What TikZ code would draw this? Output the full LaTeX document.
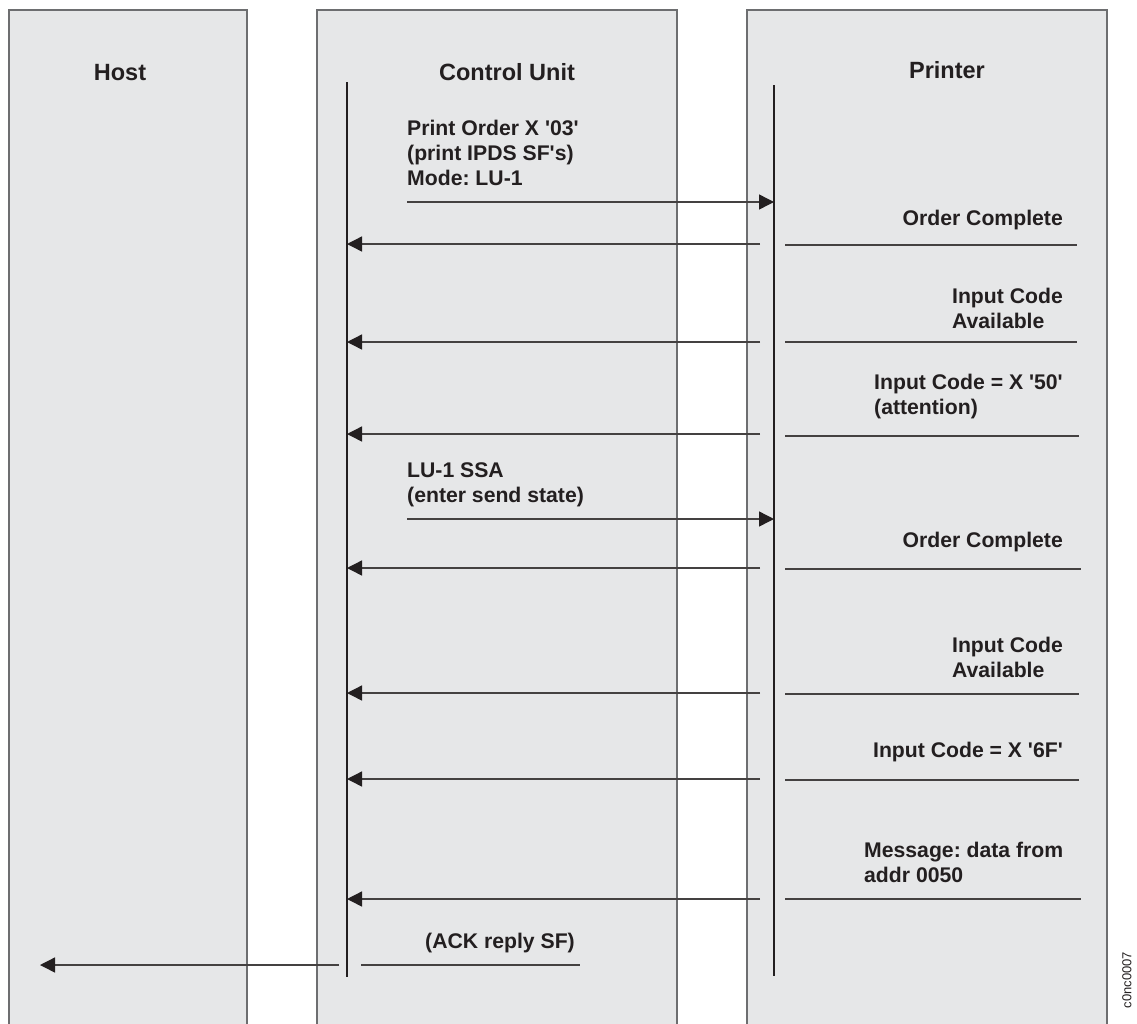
\documentclass[tikz,border=0pt]{standalone}
\usepackage{fontspec}
\setmainfont{Liberation Sans}[Ligatures=TeXOff]
\usetikzlibrary{arrows.meta}
\definecolor{panelfill}{HTML}{E6E7E8}
\definecolor{panelline}{HTML}{6D6E70}
\definecolor{ink}{HTML}{231F20}
\frenchspacing
\begin{document}
\begin{tikzpicture}[x=1pt,y=-1pt,
  panel/.style={fill=panelfill,draw=panelline,line width=1.1pt},
  lifeline/.style={draw=ink,line width=1.4pt},
  msg/.style={draw=ink!85,line width=1.4pt,-{Triangle[length=15pt,width=15pt,color=ink]}},
  plain/.style={draw=ink!85,line width=1.4pt},
  title/.style={font=\fontsize{23.5}{28}\selectfont\bfseries,text=ink,inner sep=0pt,anchor=base},
  lbl/.style={font=\fontsize{21.2}{25}\selectfont\bfseries,text=ink,inner sep=0pt}]
\useasboundingbox (0,0) rectangle (1137,1023);
\fill[white] (0,0) rectangle (1137,1023);
% panels
\path[panel] (9,10) rectangle (247,1030);
\path[panel] (317,10) rectangle (677,1030);
\path[panel] (747,10) rectangle (1107,1030);
% titles
\node[title] (thost) at (120,80) {Host};
\node[title] (tcu) at (507,80) {Control Unit};
\node[title] (tpr) at (947,78) {Printer};
% lifelines
\coordinate (cutop) at (347,82);
\coordinate (cubot) at (347,977);
\coordinate (prtop) at (774,85);
\coordinate (prbot) at (774,976);
\draw[lifeline] (cutop) -- (cubot);
\draw[lifeline] (prtop) -- (prbot);
% message endpoints
\coordinate (a1s) at (407,202); \coordinate (a1e) at (774,202);
\coordinate (a2s) at (760,244); \coordinate (a2e) at (347,244);
\coordinate (b2s) at (785,245); \coordinate (b2e) at (1077,245);
\coordinate (a3s) at (760,342); \coordinate (a3e) at (347,342);
\coordinate (b3s) at (785,342); \coordinate (b3e) at (1077,342);
\coordinate (a4s) at (760,434); \coordinate (a4e) at (347,434);
\coordinate (b4s) at (785,436); \coordinate (b4e) at (1079,436);
\coordinate (a5s) at (407,519); \coordinate (a5e) at (774,519);
\coordinate (a6s) at (760,568); \coordinate (a6e) at (347,568);
\coordinate (b6s) at (785,569); \coordinate (b6e) at (1081,569);
\coordinate (a7s) at (760,693); \coordinate (a7e) at (347,693);
\coordinate (b7s) at (785,694); \coordinate (b7e) at (1079,694);
\coordinate (a8s) at (760,779); \coordinate (a8e) at (347,779);
\coordinate (b8s) at (785,780); \coordinate (b8e) at (1079,780);
\coordinate (a9s) at (760,899); \coordinate (a9e) at (347,899);
\coordinate (b9s) at (785,899); \coordinate (b9e) at (1081,899);
\coordinate (a10s) at (339,965); \coordinate (a10e) at (40,965);
\coordinate (b10s) at (361,965); \coordinate (b10e) at (580,965);
\draw[msg] (a1s) -- (a1e);
\draw[msg] (a2s) -- (a2e);  \draw[plain] (b2s) -- (b2e);
\draw[msg] (a3s) -- (a3e);  \draw[plain] (b3s) -- (b3e);
\draw[msg] (a4s) -- (a4e);  \draw[plain] (b4s) -- (b4e);
\draw[msg] (a5s) -- (a5e);
\draw[msg] (a6s) -- (a6e);  \draw[plain] (b6s) -- (b6e);
\draw[msg] (a7s) -- (a7e);  \draw[plain] (b7s) -- (b7e);
\draw[msg] (a8s) -- (a8e);  \draw[plain] (b8s) -- (b8e);
\draw[msg] (a9s) -- (a9e);  \draw[plain] (b9s) -- (b9e);
\draw[msg] (a10s) -- (a10e); \draw[plain] (b10s) -- (b10e);
% labels (base anchor = baseline of last line)
\node[lbl,anchor=base west,align=left] (l1) at (407,185) {Print Order X '03'\\(print IPDS SF's)\\Mode: LU-1};
\node[lbl,anchor=base east,align=right] (l2) at (1063,225) {Order Complete};
\node[lbl,anchor=base east,align=left] (l3) at (1063,328) {Input Code\\Available};
\node[lbl,anchor=base west,align=left] (l4) at (874,414) {Input Code = X '50'\\(attention)};
\node[lbl,anchor=base west,align=left] (l5) at (407,502) {LU-1 SSA\\(enter send state)};
\node[lbl,anchor=base east,align=right] (l6) at (1063,547) {Order Complete};
\node[lbl,anchor=base east,align=left] (l7) at (1063,677) {Input Code\\Available};
\node[lbl,anchor=base east,align=right] (l8) at (1063,757) {Input Code = X '6F'};
\node[lbl,anchor=base west,align=left] (l9) at (864,882) {Message: data from\\addr 0050};
\node[lbl,anchor=base] (l10) at (500,948) {(ACK reply SF)};
\node[font=\fontsize{13}{15}\selectfont,text=ink,inner sep=0pt,rotate=90] (fig) at (1127,980) {c0nc0007};
\end{tikzpicture}
\end{document}
